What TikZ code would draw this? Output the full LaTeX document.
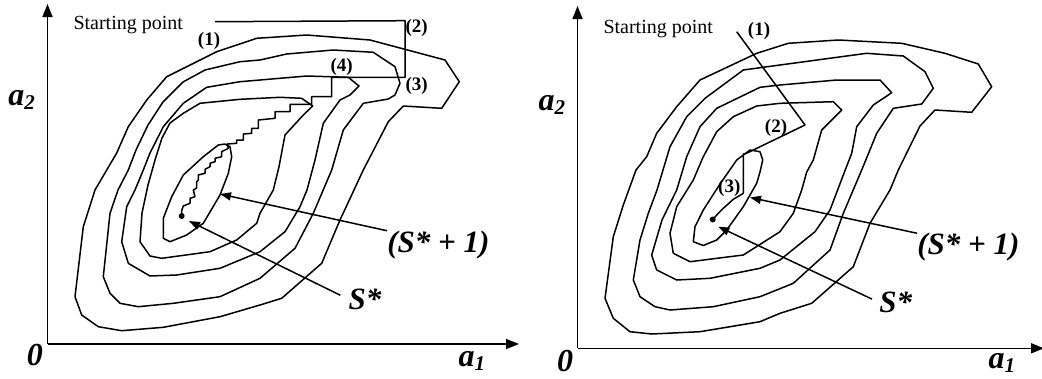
\documentclass[tikz,border=0pt]{standalone}
\usepackage{fontspec}
\setmainfont{Liberation Serif}
\usetikzlibrary{arrows.meta}
\newcommand{\lowidx}[1]{\raisebox{-4pt}{\fontsize{21}{21}\selectfont #1}}

\begin{document}
\begin{tikzpicture}[x=1pt, y=-1pt, line join=round,
  contour/.style={line width=1.5pt},
  route/.style={line width=1.5pt},
  axis/.style={line width=1.6pt, -{Triangle[length=13pt,width=10pt]}},
  pointer/.style={line width=1.5pt, -{Triangle[length=11pt,width=8pt]}},
  startlbl/.style={font=\fontsize{20}{22}\selectfont, inner sep=0pt, anchor=base west},
  taglbl/.style={font=\fontsize{19}{21}\selectfont\bfseries, inner sep=0pt},
  biglbl/.style={font=\fontsize{31}{34}\selectfont\bfseries\itshape, inner sep=0pt},
  axislbl/.style={font=\fontsize{32}{34}\selectfont\bfseries\itshape, inner sep=0pt, anchor=base west}]
  \useasboundingbox (0,0) rectangle (1042,378);

  % ---- left: coordinate search ----
  \coordinate (OL) at (47.5,344);
  \coordinate (YL) at (47.5,4);
  \coordinate (XL) at (519,344);
  \draw[axis] (OL) -- (YL);
  \draw[axis] (OL) -- (XL);

  % contours, outer to inner
  \draw[contour] (256.7,38.3) -- (306.7,35) -- (370,40) -- (445,60) -- (459.3,81.7) -- (441.7,108.3)
    -- (403.3,106) -- (388.3,121.7) -- (363.3,170) -- (340,220) -- (321.7,263.3) -- (281.7,298.3)
    -- (260,305) -- (220,316.7) -- (163.3,327.3) -- (121.7,330.7) -- (98.3,326.7) -- (81.7,315)
    -- (75,296.7) -- (83.3,226.7) -- (95,190) -- (116.7,153) -- (128.3,126.7) -- (146.7,100)
    -- (166.7,76.7) -- (216.7,51.7) -- cycle;
  \draw[contour] (260,60) -- (286.7,54) -- (333.3,50) -- (373.3,52.3) -- (395,66.7) -- (400,83.3)
    -- (395,95) -- (388.3,99) -- (363.3,103.3) -- (343.3,130) -- (331.7,170) -- (313.3,213.3)
    -- (295,248.3) -- (260,278.3) -- (220,296.7) -- (173.3,303.3) -- (138.3,306.7) -- (120,303.3)
    -- (110,293.3) -- (103.3,276.7) -- (110,213.3) -- (118,190) -- (128.3,170) -- (136,150)
    -- (148,125) -- (163,102) -- (183,82) -- (205,70) -- (240,61.7) -- cycle;
  \draw[contour] (260,80) -- (306.7,76) -- (348.3,77.3) -- (359,86) -- (350,95) -- (340,100)
    -- (323.3,123.3) -- (315,160) -- (307,190) -- (300,206.7) -- (285,231.7) -- (260,251.7)
    -- (220,268.3) -- (176.7,275) -- (150,276) -- (128.3,263.3) -- (121.7,241.7) -- (126.7,206.7)
    -- (135,190) -- (143.3,170) -- (150,153) -- (163.3,126.7) -- (183.3,103.3) -- (206.7,87.3)
    -- (240,81.7) -- cycle;
  \draw[contour] (183.3,113.3) -- (200,103.3) -- (240,99.3) -- (280,97.3) -- (301.7,98.3) -- (312.7,106)
    -- (303.3,115) -- (285,135) -- (279,166.7) -- (273.3,190) -- (260,213.3) -- (256.7,223.3)
    -- (236.7,240) -- (210,251.7) -- (161.7,258.3) -- (150,256) -- (140,241.7) -- (142,213)
    -- (148,185) -- (155,160) -- (162,138) -- (170,123) -- cycle;
  \draw[contour] (163.3,218.3) -- (171.7,196.7) -- (183.3,175) -- (203.3,156.7) -- (218.3,145)
    -- (225,144) -- (230,146.7) -- (231.7,156.7) -- (228.3,173.3) -- (220,195) -- (203.3,223.3)
    -- (186.7,235) -- (170,241.7) -- (163.3,238.3) -- cycle;

  % route (1)-(2)-(3)-(4) then stairs down to the minimum
  \coordinate (startL) at (215,21.7);
  \coordinate (minL) at (181.7,216);
  \draw[route] (startL) -- (405,20.7) -- (405,77.3) -- (331.7,77.3) -- (331.7,96.7) -- (311.7,96.7)
    -- (311.7,104.3) -- (290,104.3) -- (290,111.7) -- (275,111.7) -- (275,118.3) -- (258.3,120)
    -- (258.3,128.3) -- (251.7,128.3) -- (251.7,133.3) -- (243.3,134) -- (243.3,140) -- (236.7,140)
    -- (236.7,143.3) -- (227.3,144) -- (228.3,148.3) -- (221.7,151.7) -- (221.7,156.7) -- (215,158.3)
    -- (215,161.7) -- (210,163.3) -- (210,166.7) -- (205,169.3) -- (205,173.3) -- (198.3,175)
    -- (198.3,180) -- (196.7,181.7) -- (196.7,188) -- (193.3,190) -- (195,196.7) -- (190,198.3)
    -- (190,203.3) -- (183.3,206) -- (181.7,210.7) -- (minL);
  \fill (minL) circle (3pt);

  \node[startlbl] (startTxtL) at (73.3,29.3) {Starting point};
  \node[taglbl] (oneL) at (209,40.7) {(1)};
  \node[taglbl] (twoL) at (416.7,28.3) {(2)};
  \node[taglbl] (threeL) at (416.7,86) {(3)};
  \node[taglbl] (fourL) at (341.7,66.7) {(4)};
  \node[axislbl] (zeroL) at (26.7,365) {0};
  \node[axislbl] (atwoL) at (8.3,105) {a\lowidx{2}};
  \node[axislbl] (aoneL) at (458.3,366) {a\lowidx{1}};

  \node[biglbl] (plusL) at (438.3,245) {(S* + 1)};
  \node[biglbl] (starL) at (365,299.2) {S*};
  \coordinate (tipPlusL) at (220,194);
  \coordinate (tipStarL) at (189,221);
  \draw[pointer] (plusL.north west) -- (tipPlusL);
  \draw[pointer, shorten <=9pt] (starL.west) -- (tipStarL);

  % ---- right: gradient search ----
  \coordinate (OR) at (577.5,348.3);
  \coordinate (YR) at (577.5,6);
  \coordinate (XR) at (1044,348.3);
  \draw[axis] (OR) -- (YR);
  \draw[axis] (OR) -- (XR);

  \draw[contour] (788.3,43.3) -- (838.3,40) -- (901.7,43.3) -- (945,53.3) -- (978.3,64) -- (991.7,86.7)
    -- (971.7,112.3) -- (935,110) -- (920,126) -- (898.3,170) -- (890,190) -- (870,223.3)
    -- (853.3,266.7) -- (811.7,303.3) -- (780,313.3) -- (760,321.7) -- (700,331.7) -- (651.7,334)
    -- (630,331.7) -- (613.3,318.3) -- (605,298.3) -- (613.3,236.7) -- (623.3,205) -- (636,170)
    -- (646.7,156.7) -- (656.7,133.3) -- (676.7,106.7) -- (700,80) -- (756.7,53.3) -- cycle;
  \draw[contour] (780,65) -- (866.7,53.3) -- (903.3,56) -- (925,71.7) -- (933.3,88.3) -- (921.7,104)
    -- (893.3,108.3) -- (876.7,133.3) -- (861.7,170) -- (843.3,213.3) -- (830,250) -- (793.3,283.3)
    -- (760,296.7) -- (713.3,306.7) -- (670,310) -- (655,306.7) -- (640,296.7) -- (633.3,280)
    -- (640,240) -- (648.3,213.3) -- (657,190) -- (663,170) -- (670,146.7) -- (686.7,116.7)
    -- (705,98.3) -- (743.3,70) -- cycle;
  \draw[contour] (780,85) -- (836.7,80) -- (880,80) -- (891.7,92.7) -- (873.3,105) -- (856.7,126.7)
    -- (851.7,153.3) -- (843.3,175) -- (830,210) -- (815,231.7) -- (780,260) -- (760,268.3)
    -- (710,278.3) -- (676.7,280) -- (656.7,270) -- (651.7,255) -- (662,220) -- (676.7,190)
    -- (686.7,156.7) -- (700,126.7) -- (716.7,108.3) -- (760,87.3) -- cycle;
  \draw[contour] (780,103.3) -- (833.3,101.7) -- (841.7,110) -- (821.7,130) -- (813.3,160) -- (806.7,172)
    -- (801.7,190) -- (793.3,213.3) -- (780,231.7) -- (743.3,255) -- (690,261.7) -- (673.3,253.3)
    -- (670,233.3) -- (676.7,206.7) -- (693.3,180) -- (703.3,156.7) -- (716.7,131.7) -- (733.3,116.7)
    -- (756.7,106) -- cycle;
  \draw[contour] (750,150) -- (760,151.7) -- (762.7,160) -- (760,172) -- (756.7,183.3) -- (743.3,206.7)
    -- (726.7,230) -- (716.7,240) -- (703.3,245.5) -- (693.3,241.7) -- (695,226.7) -- (703.3,210)
    -- (720,184) -- (736.7,160) -- cycle;

  % route (1)-(2)-(3)
  \coordinate (startR) at (736.7,31.7);
  \coordinate (minR) at (712.7,219.5);
  \draw[route] (startR) -- (805,125) -- (746,153.5) -- (743.3,154) -- (743.3,193.3) -- (733.3,199.3)
    -- (723.3,208.3) -- (718.3,213.3) -- (minR);
  \fill (minR) circle (3pt);

  \node[startlbl] (startTxtR) at (603.3,33.3) {Starting point};
  \node[taglbl] (oneR) at (759,30.7) {(1)};
  \node[taglbl] (twoR) at (776,127.7) {(2)};
  \node[taglbl] (threeR) at (729.3,188.3) {(3)};
  \node[axislbl] (zeroR) at (557,371) {0};
  \node[axislbl] (atwoR) at (538.3,110) {a\lowidx{2}};
  \node[axislbl] (aoneR) at (988.3,368) {a\lowidx{1}};

  \node[biglbl] (plusR) at (968.3,247.5) {(S* + 1)};
  \node[biglbl] (starR) at (895.8,302.5) {S*};
  \coordinate (tipPlusR) at (750,197.5);
  \coordinate (tipStarR) at (718.3,226.7);
  \draw[pointer] (plusR.north west) -- (tipPlusR);
  \draw[pointer, shorten <=8pt] (starR.west) -- (tipStarR);
\end{tikzpicture}
\end{document}
